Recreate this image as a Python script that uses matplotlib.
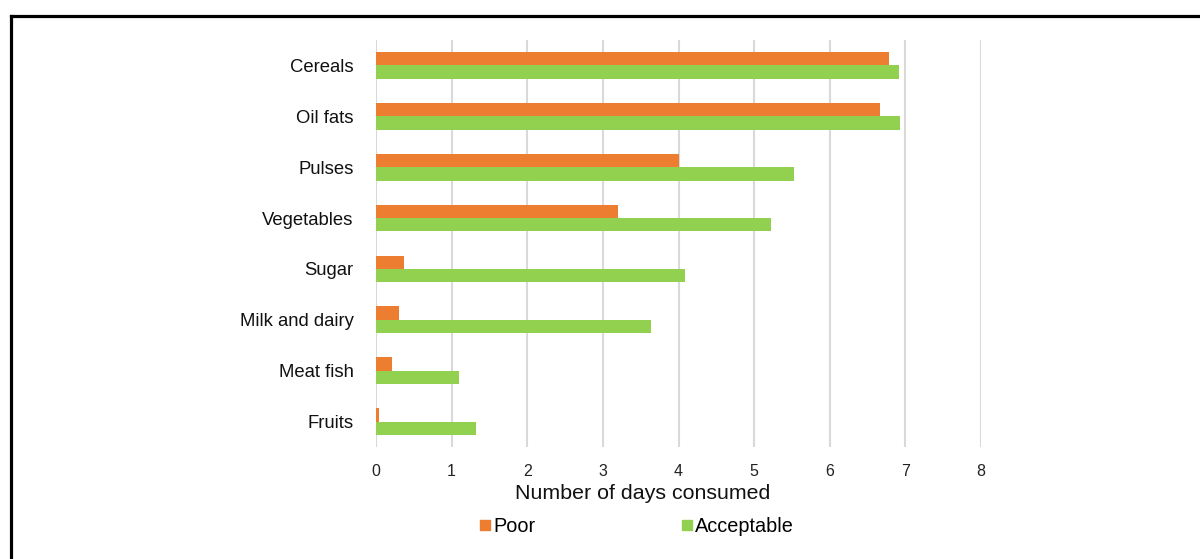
import matplotlib
matplotlib.use("Agg")
import matplotlib.pyplot as plt
from matplotlib.lines import Line2D
import numpy as np

plt.rcParams['font.family'] = ['Liberation Sans', 'DejaVu Sans']

# Food groups and average number of days consumed, by consumption group
food_groups = ["Cereals", "Oil fats", "Pulses", "Vegetables", "Sugar",
               "Milk and dairy", "Meat fish", "Fruits"]
poor = [6.78, 6.66, 4.00, 3.20, 0.37, 0.30, 0.21, 0.04]
acceptable = [6.92, 6.93, 5.53, 5.22, 4.09, 3.63, 1.10, 1.32]
series_names = ["Poor", "Acceptable"]
x_ticks = [0, 1, 2, 3, 4, 5, 6, 7, 8]

orange = "#ED7D31"
green = "#92D050"

fig = plt.figure(figsize=(12, 5.59), dpi=100)
ax = fig.add_axes([376 / 1200, 1 - 447 / 559, (981 - 376) / 1200, (447 - 40) / 559])

y = np.arange(len(food_groups))
bar_h = 0.262
ax.barh(y - bar_h / 2, poor, height=bar_h, color=orange, zorder=3)
ax.barh(y + bar_h / 2, acceptable, height=bar_h, color=green, zorder=3)

ax.set_xlim(0, 8)
ax.set_ylim(len(food_groups) - 0.5, -0.5)
ax.set_xticks(x_ticks)
ax.set_xticklabels([str(t) for t in x_ticks], fontsize=11.5, color="#222222")
ax.set_yticks(y)
ax.set_yticklabels(food_groups, fontsize=13.3, color="#111111")
ax.tick_params(axis="both", length=0)
ax.tick_params(axis="y", pad=16)
ax.tick_params(axis="x", pad=12)
ax.grid(axis="x", color="#D9D9D9", linewidth=1.5, zorder=0)
for s in ax.spines.values():
    s.set_visible(False)

ax.set_xlabel("Number of days consumed", fontsize=15.4, color="#111111")
ax.xaxis.set_label_coords(0.44, -0.092)

handles = [Line2D([], [], marker="s", linestyle="none", markersize=7.5, color=orange),
           Line2D([], [], marker="s", linestyle="none", markersize=7.5, color=green)]
fig.legend(handles, series_names, loc="center", bbox_to_anchor=(0.531, 1 - 526 / 559),
           ncol=2, frameon=False, fontsize=14.3, handlelength=0.5,
           handletextpad=0.15, columnspacing=7.4, borderpad=0)

# frame lines along the top and left edge
fig.add_artist(Line2D([10.5 / 1200, 1], [1 - 16 / 559, 1 - 16 / 559],
                      transform=fig.transFigure, color="black", linewidth=2.3))
fig.add_artist(Line2D([10.5 / 1200, 10.5 / 1200], [0, 1 - 16 / 559],
                      transform=fig.transFigure, color="black", linewidth=2.3))

fig.savefig("out.png", dpi=100, facecolor="white")
